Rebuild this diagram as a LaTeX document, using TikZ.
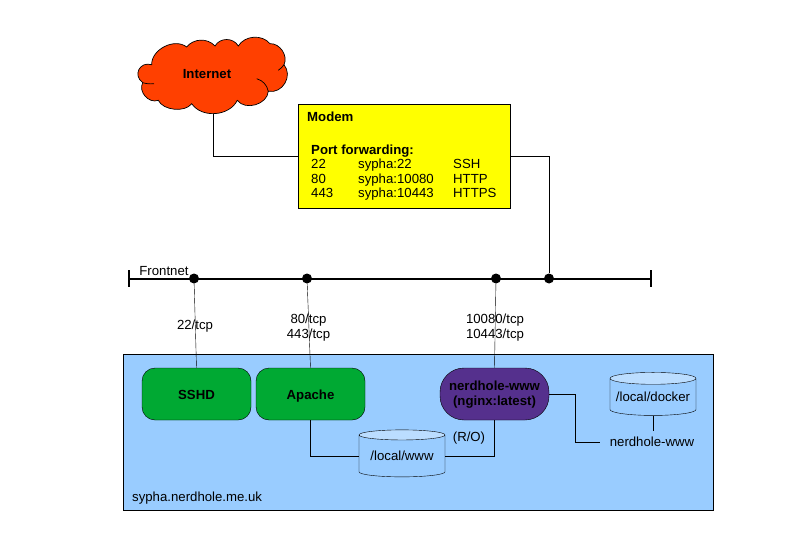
\documentclass[tikz,border=0pt]{standalone}
\usepackage{fontspec}
\setmainfont{Liberation Sans}
\usepackage[HTML]{xcolor}
\usetikzlibrary{shapes.geometric}
\definecolor{hostblue}{HTML}{99CCFF}
\definecolor{diskblue}{HTML}{BBDDFF}
\definecolor{svcgreen}{HTML}{00A933}
\definecolor{svcpurple}{HTML}{55308D}
\definecolor{cloudred}{HTML}{FF4000}
\tikzset{
  every node/.style={font=\fontsize{13.2}{15}\selectfont, inner sep=0pt},
  service/.style={draw, rounded corners=13pt, minimum width=109pt, minimum height=52pt, text height=10pt, text depth=0pt, font=\fontsize{13.2}{15}\selectfont\bfseries},
  disk/.style={draw, cylinder, shape border rotate=90, shape aspect=0.16, cylinder uses custom fill, cylinder body fill=hostblue, cylinder end fill=diskblue},
  busdot/.style={circle, fill=black, minimum size=10pt},
  wire/.style={draw, line width=0.8pt},
}
\begin{document}
\begin{tikzpicture}[x=1pt,y=-1pt]
\useasboundingbox (0,0) rectangle (794,559);
% host
\node[draw, fill=hostblue, minimum width=590pt, minimum height=156.5pt] (sypha) at (418.5,432) {};
\node[anchor=west] (syphaname) at (132,498.5) {sypha.nerdhole.me.uk};
% internet and modem
\draw[fill=cloudred, line width=0.7pt] (151.7,64.7)
  to[bend left=65] (186.7,47)
  to[bend left=50] (215,46)
  to[bend left=60, looseness=1.1] (238.3,46)
  to[bend left=55] (270,43.7)
  to[bend left=60] (284,64.7)
  to[bend left=70, looseness=1.2] (268.3,91.3)
  to[bend left=70, looseness=1.05] (237.3,100.3)
  to[bend left=60] (191.7,103.7)
  to[bend left=60, looseness=0.85] (158.3,100.3)
  to[bend left=70, looseness=1.1] (142.7,82.7)
  to[bend left=80, looseness=1.6] (151.7,64.7) -- cycle;
\draw[line width=0.7pt] (154,83.7) to[bend left=10] (142.7,82.7);
\draw[line width=0.7pt] (256.7,78.7) to[bend left=30] (268.3,91.3);
\draw[line width=0.7pt] (278.3,70.3) to[bend right=10] (284,64.7);
\coordinate (internet) at (213.3,113.7);
\node[font=\fontsize{13.2}{15}\selectfont\bfseries] (internetname) at (207,74) {Internet};
\node[draw, fill=yellow, minimum width=212pt, minimum height=104pt] (modem) at (404,156) {};
\node[anchor=west, font=\fontsize{13.2}{15}\selectfont\bfseries] (modemname) at (307,117) {Modem};
\node[anchor=north west, align=left] (ports) at (311,145) {\textbf{Port forwarding:}\\[-0.5pt]
  \begin{tabular}{@{}p{47pt}@{}p{95pt}@{}l@{}}
  22 & sypha:22 & SSH\\[-0.5pt]
  80 & sypha:10080 & HTTP\\[-0.5pt]
  443 & sypha:10443 & HTTPS
  \end{tabular}};
% frontnet
\coordinate (busleft) at (129,279);
\coordinate (busright) at (651,279);
\draw[line width=2.8pt] (busleft) -- (busright);
\draw[line width=1.6pt] (129,270) -- (129,287);
\draw[line width=1.6pt] (651,270) -- (651,287);
\node[busdot] (dotssh) at (194,278.5) {};
\node[busdot] (dotweb) at (307,278.5) {};
\node[busdot] (dotwww) at (496,278.5) {};
\node[busdot] (dotmodem) at (549,278.5) {};
% services
\node[service, fill=svcgreen] (sshd) at (196.5,394) {SSHD};
\node[service, fill=svcgreen] (apache) at (310.5,394) {Apache};
\node[service, fill=svcpurple, rounded corners=24pt, align=center, text height=23.5pt, text depth=0pt] (www) at (494.5,394) {nerdhole-www\\(nginx:latest)};
\node[disk, minimum width=86pt, minimum height=47pt] (wwwdisk) at (402,456) {/local/www};
\node[disk, minimum width=86pt, minimum height=43pt] (dockerdisk) at (653,397) {/local/docker};
\node[outer xsep=10pt, outer ysep=6pt] (wwwvolume) at (652,442) {nerdhole-www};
% connectors
\draw[wire] (internet) |- (modem.west);
\draw[wire] (modem.east) -| (dotmodem);
\draw (dotssh) -- (sshd.north);
\draw (dotweb) -- (apache.north);
\draw (dotwww) -- (www.north);
\draw[wire] (apache.south) |- (wwwdisk.west);
\draw[wire] (www.south) |- (wwwdisk.east);
\draw[wire] (www.east) -- (575,394) |- (wwwvolume.west);
\draw[wire] (dockerdisk.south) -- (dockerdisk.south |- wwwvolume.north);
% labels
\node (frontnet) at (164,271.5) {Frontnet};
\node (portssh) at (195,326.5) {22/tcp};
\node[align=center] (portweb) at (308.5,327.5) {80/tcp\\443/tcp};
\node[align=center] (portwww) at (495,327.5) {10080/tcp\\10443/tcp};
\node (readonly) at (469,438.5) {(R/O)};
\end{tikzpicture}
\end{document}
